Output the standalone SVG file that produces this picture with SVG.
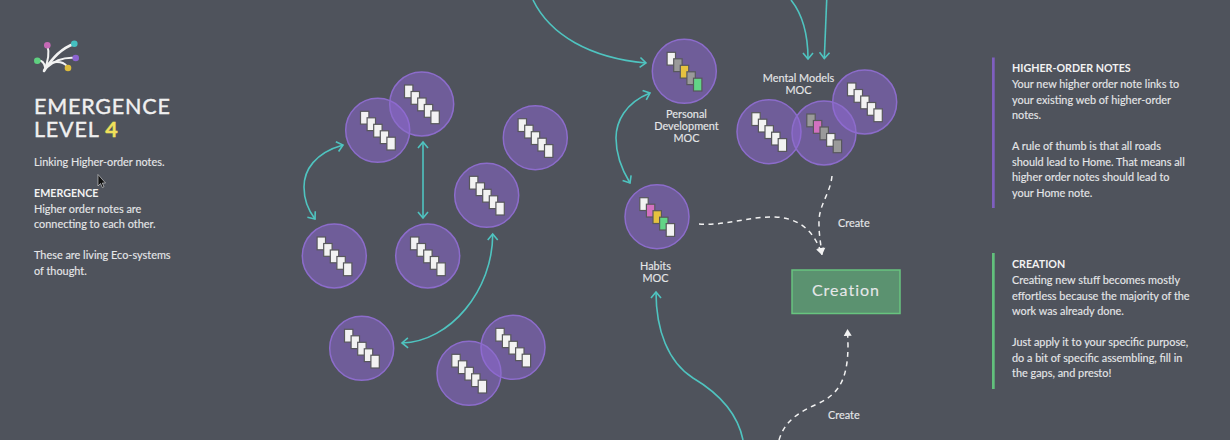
<svg xmlns="http://www.w3.org/2000/svg" width="1230" height="440" viewBox="0 0 1230 440">
<style>
text{font-family:Lato,"Open Sans","Liberation Sans",sans-serif;fill:#e6e7e9;font-size:10.9px;stroke:#e6e7e9;stroke-width:.12px}
.b{font-weight:700;fill:#f2f2f2;stroke-width:0;font-size:10.7px}
.m{text-anchor:middle}
.t{font-size:21.5px;letter-spacing:.8px;fill:#f0f0f0;stroke:#f0f0f0;stroke-width:.4px}
.c{fill:#8f68d6;fill-opacity:.5;stroke:#8c6ccb;stroke-width:1.5}
.d{stroke:#58585c;stroke-width:1.2}
.w{fill:#f2f2f2}.g{fill:#9a9a9a}.y{fill:#e6c23f}.n{fill:#62d487}.p{fill:#d271c0}
.a{fill:none;stroke:#4fc4c0;stroke-width:1.6}
.h{fill:none;stroke:#f2f2f2;stroke-width:1.5;stroke-dasharray:5 4.5}
.l{fill:none;stroke:#f2f2f2;stroke-linecap:round}
</style>
<defs>
<marker id="ah" viewBox="-8 -6 10 12" refX="0" refY="0" markerWidth="10" markerHeight="12" markerUnits="userSpaceOnUse" orient="auto-start-reverse"><path d="M-6,-5 L0,0 L-6,5" fill="none" stroke="#4fc4c0" stroke-width="1.6"/></marker>
<marker id="wh" viewBox="-8 -5 9 10" refX="0" refY="0" markerWidth="9" markerHeight="10" markerUnits="userSpaceOnUse" orient="auto"><path d="M-7,-4 L0,0 L-7,4 Z" fill="#f2f2f2"/></marker>
<rect id="r" class="d" x="0" y="0" width="8.400" height="12.800"/>
<g id="s"><use href="#r" x="-17.200" y="-19" class="w"/><use href="#r" x="-10.600" y="-12.500" class="w"/><use href="#r" x="-4" y="-6" class="w"/><use href="#r" x="2.600" y="0.500" class="w"/><use href="#r" x="9.200" y="6.900" class="w"/></g>
</defs>
<rect width="1230" height="440" fill="#4f535c"/>

<g id="logo">
<path class="l" stroke-width="2" d="M44,71 C48,62 50,54 47.300,45.300"/>
<path class="l" stroke-width="2.600" d="M44,71 C52,58 62,48 74.300,43.700"/>
<path class="l" stroke-width="2" d="M46,68 C55,60 65,57 75.700,58"/>
<path class="l" stroke-width="2" d="M48,64 C57,60 65,62 68,68"/>
<path class="l" stroke-width="2" d="M45,67 C44,62 42,60 37.300,60.700"/>
<circle cx="47.300" cy="45.300" r="3.300" fill="#c569b5"/><circle cx="74.300" cy="43.700" r="3.300" fill="#45c0c0"/><circle cx="75.700" cy="58" r="3.300" fill="#8b63d0"/><circle cx="68" cy="68" r="3.300" fill="#dcbb3c"/><circle cx="37.300" cy="60.700" r="3.300" fill="#5fd080"/>
</g>

<g id="intro">
<text class="t" x="34" y="114">EMERGENCE</text>
<text class="t" x="34" y="136.500">LEVEL <tspan fill="#f0e05a" stroke="#f0e05a" font-weight="700">4</tspan></text>
<text x="34" y="166">Linking Higher-order notes.</text>
<text class="b" x="34" y="197">EMERGENCE</text>
<text x="34" y="212.500">Higher order notes are</text>
<text x="34" y="228">connecting to each other.</text>
<text x="34" y="259">These are living Eco-systems</text>
<text x="34" y="274.500">of thought.</text>
</g>
<path id="cursor" d="M98,174.500 L98,186 L100.500,183.500 L102.300,187.500 L104,186.700 L102.300,183 L105.500,183 Z" fill="#111" stroke="#ddd" stroke-width=".6"/>

<g id="connectors">
<path class="a" marker-start="url(#ah)" marker-end="url(#ah)" d="M343,145 C315,153 304,170 304,187 C304,200 308,210 315,219"/>
<path class="a" marker-start="url(#ah)" marker-end="url(#ah)" d="M423,142 L423,218"/>
<path class="a" marker-start="url(#ah)" marker-end="url(#ah)" d="M492.700,234 C493,290 450,342 402,343"/>
<path class="a" marker-end="url(#ah)" d="M533,0 C550,35 590,58 646,63"/>
<path class="a" marker-start="url(#ah)" marker-end="url(#ah)" d="M650,93 C625,103 616,122 616,138 C616,155 622,170 630,183"/>
<path class="a" marker-end="url(#ah)" d="M791,0 C803,15 808,35 808,59"/>
<path class="a" marker-end="url(#ah)" d="M826.700,0 L824.300,58.500"/>
<path class="a" marker-end="url(#ah)" d="M743,440 C738,415 720,394 693,378 C668,362 656,330 656,292"/>
<path class="h" marker-end="url(#wh)" d="M699,224 C725,226 750,216 775,217 C800,218 815,232 822,255"/>
<path class="h" marker-end="url(#wh)" d="M832,176 C830,195 818,205 819,225 C819,235 821,245 822,255"/>
<path class="h" marker-end="url(#wh)" d="M779,440 C785,420 800,412 815,405 C835,396 848,385 848,345 L847.500,329"/>
</g>

<g id="n1"><circle class="c" cx="377.700" cy="130.300" r="32"/><use href="#s" x="377.700" y="130.300"/></g>
<g id="n2"><circle class="c" cx="421.700" cy="104" r="32"/><use href="#s" x="421.700" y="104"/></g>
<g id="n3"><circle class="c" cx="535.300" cy="137.700" r="32"/><use href="#s" x="535.300" y="137.700"/></g>
<g id="n4"><circle class="c" cx="486.700" cy="195.300" r="32"/><use href="#s" x="486.700" y="195.300"/></g>
<g id="n5"><circle class="c" cx="334.300" cy="256" r="32"/><use href="#s" x="334.300" y="256"/></g>
<g id="n6"><circle class="c" cx="427.700" cy="256" r="32"/><use href="#s" x="427.700" y="256"/></g>
<g id="n7"><circle class="c" cx="361.700" cy="348.300" r="32"/><use href="#s" x="361.700" y="348.300"/></g>
<g id="n8"><circle class="c" cx="513" cy="347.300" r="32"/><use href="#s" x="513" y="347.300"/></g>
<g id="n9"><circle class="c" cx="469" cy="373.300" r="32"/><use href="#s" x="469" y="373.300"/></g>

<g id="personal-development"><circle class="c" cx="684.300" cy="71.300" r="32"/>
<g transform="translate(684.300 71.300)"><use href="#r" x="-17.200" y="-19" class="w"/><use href="#r" x="-10.600" y="-12.500" class="g"/><use href="#r" x="-4" y="-6" class="y"/><use href="#r" x="2.600" y="0.500" class="g"/><use href="#r" x="9.200" y="6.900" class="n"/></g>
<text class="m" x="686.500" y="117.500">Personal</text><text class="m" x="686.500" y="130">Development</text><text class="m" x="686.500" y="142">MOC</text></g>

<g id="mental-models"><circle class="c" cx="769" cy="131.700" r="32"/><use href="#s" x="769" y="131.700"/>
<circle class="c" cx="864.700" cy="102" r="32"/><use href="#s" x="864.700" y="102"/>
<circle class="c" cx="824" cy="133" r="32"/>
<g transform="translate(824 133)"><use href="#r" x="-17.200" y="-19" class="g"/><use href="#r" x="-10.600" y="-12.500" class="p"/><use href="#r" x="-4" y="-6" class="g"/><use href="#r" x="2.600" y="0.500" class="w"/><use href="#r" x="9.200" y="6.900" class="g"/></g>
<text class="m" x="798.500" y="81.500">Mental Models</text><text class="m" x="798.500" y="93.500">MOC</text></g>

<g id="habits"><circle class="c" cx="657" cy="216.700" r="32"/>
<g transform="translate(657 216.700)"><use href="#r" x="-17.200" y="-19" class="w"/><use href="#r" x="-10.600" y="-12.500" class="p"/><use href="#r" x="-4" y="-6" class="y"/><use href="#r" x="2.600" y="0.500" class="n"/><use href="#r" x="9.200" y="6.900" class="w"/></g>
<text class="m" x="655.500" y="269.500">Habits</text><text class="m" x="655.500" y="281.500">MOC</text></g>

<g id="creation"><rect x="792" y="270" width="108" height="43.500" fill="#5b9270" stroke="#68c47f" stroke-width="1.500"/>
<text class="m" x="846" y="296" style="font-size:16px;letter-spacing:1px;stroke-width:.1px">Creation</text></g>

<g id="create-labels"><text x="838" y="226.800">Create</text><text x="828" y="419.300">Create</text></g>

<g id="higher-order-notes"><rect x="992" y="57.500" width="2.700" height="150.500" fill="#7f5fc0"/>
<text class="b" x="1012" y="72">HIGHER-ORDER NOTES</text>
<text x="1012" y="88">Your new higher order note links to</text>
<text x="1012" y="103.500">your existing web of higher-order</text>
<text x="1012" y="119">notes.</text>
<text x="1012" y="150">A rule of thumb is that all roads</text>
<text x="1012" y="165.500">should lead to Home. That means all</text>
<text x="1012" y="181">higher order notes should lead to</text>
<text x="1012" y="196.500">your Home note.</text></g>

<g id="creation-notes"><rect x="992" y="253" width="2.700" height="136" fill="#62c07c"/>
<text class="b" x="1012" y="268">CREATION</text>
<text x="1012" y="284">Creating new stuff becomes mostly</text>
<text x="1012" y="299.500">effortless because the majority of the</text>
<text x="1012" y="315">work was already done.</text>
<text x="1012" y="346">Just apply it to your specific purpose,</text>
<text x="1012" y="361.500">do a bit of specific assembling, fill in</text>
<text x="1012" y="377">the gaps, and presto!</text></g>
</svg>
